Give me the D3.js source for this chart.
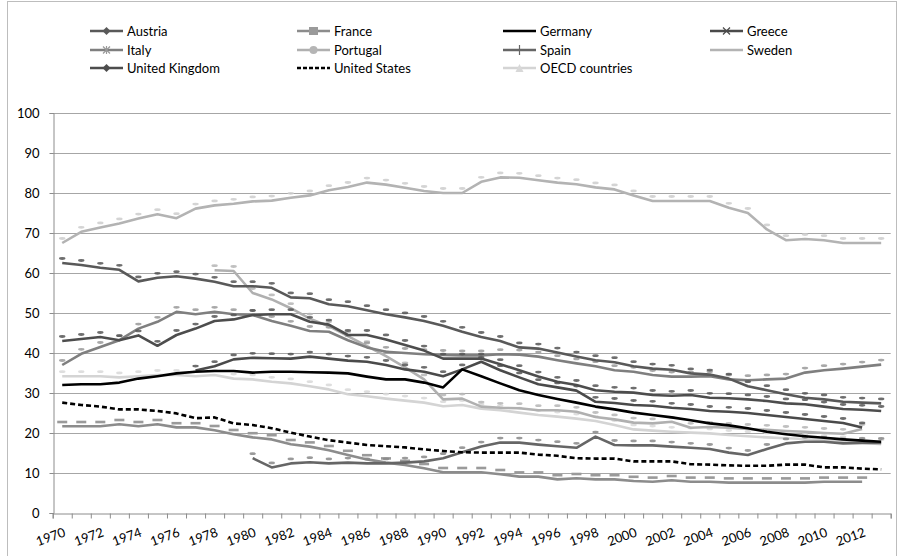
<!DOCTYPE html>
<html>
<head>
<meta charset="utf-8">
<script src="https://cdn.jsdelivr.net/npm/d3@7"></script>
<style>
  body { margin: 0; background: #fff; }
  text { font-family: Lato, "Open Sans", sans-serif; }
</style>
</head>
<body>
<div id="chart"></div>
<script>
// years on the category axis
var years = d3.range(1970, 2014);
var yearLabels = years.filter(function(y) { return y % 2 === 0; });
var yTicks = d3.range(0, 101, 10);

// values, 1970..2013 (null = no data)
var austria = [62.5,62.0,61.3,60.8,57.9,58.8,59.2,58.6,57.8,56.7,
  56.7,56.3,53.9,53.7,52.2,51.7,50.7,49.7,48.9,48.0,
  46.8,45.3,44.0,43.0,41.4,41.1,40.1,39.1,38.2,37.7,
  36.7,36.1,35.8,34.9,34.6,33.6,31.7,30.7,29.7,28.8,
  28.4,27.8,27.6,27.4];
var france = [21.7,21.7,21.7,22.2,21.7,22.2,21.4,21.4,20.7,19.7,
  18.9,18.4,17.2,16.6,15.7,14.5,13.4,12.6,12.0,11.2,
  10.2,10.2,10.2,9.7,9.1,9.1,8.4,8.7,8.4,8.4,
  8.0,7.8,8.2,7.8,7.8,7.6,7.6,7.6,7.6,7.6,
  7.8,7.8,7.8,null];
var germany = [32.0,32.2,32.2,32.6,33.6,34.2,34.9,35.3,35.5,35.5,
  35.1,35.3,35.3,35.2,35.1,34.9,34.1,33.4,33.4,32.6,
  31.4,35.9,34.2,32.4,30.7,29.5,28.5,27.6,26.6,25.9,
  25.1,24.5,23.9,23.2,22.4,21.9,21.2,20.3,19.7,19.2,
  18.8,18.4,18.1,17.8];
var greece = [null,null,null,null,null,null,null,35.6,36.7,38.4,
  38.8,38.7,38.6,39.1,38.6,38.1,37.8,37.0,35.9,35.3,
  34.2,35.9,37.8,35.7,33.9,32.2,31.4,30.6,27.8,27.5,
  27.0,26.8,26.3,26.0,25.5,25.3,25.0,24.5,24.0,23.5,
  23.0,22.5,21.4,null];
var italy = [37.0,39.8,41.5,43.2,46.1,47.8,50.3,49.7,50.3,49.7,
  49.5,48.0,46.8,45.5,45.3,43.2,41.4,40.3,40.0,39.7,
  39.5,39.4,39.4,39.7,39.6,39.1,38.2,37.4,36.7,35.7,
  35.3,34.5,34.1,34.1,34.2,33.4,33.2,33.4,33.6,35.1,
  35.7,36.1,36.6,37.1];
var portugal = [null,null,null,null,null,null,null,null,60.7,60.5,
  55.0,53.4,51.2,48.6,46.7,44.2,41.7,39.2,36.4,33.4,
  28.4,28.6,26.6,26.3,26.2,25.7,25.7,25.3,24.0,23.4,
  22.6,22.4,22.8,21.3,21.5,21.3,21.0,20.8,20.5,20.3,
  20.0,19.8,21.0,null];
var spain = [null,null,null,null,null,null,null,null,null,null,
  13.7,11.4,12.4,12.7,12.4,12.6,12.4,12.4,12.6,12.9,
  13.7,15.2,16.6,17.6,17.6,17.1,16.7,16.3,19.1,17.0,
  16.9,16.9,16.6,16.3,16.0,15.1,14.5,16.0,17.4,17.8,
  17.8,17.4,17.5,17.5];
var sweden = [67.5,70.3,71.4,72.4,73.6,74.7,73.7,76.1,76.9,77.3,
  77.9,78.1,78.8,79.4,80.7,81.5,82.6,82.1,81.3,80.5,
  80.0,80.0,82.8,83.9,83.8,83.2,82.6,82.2,81.4,80.9,
  79.4,78.0,78.0,78.0,78.0,76.3,75.0,70.9,68.2,68.5,
  68.2,67.5,67.5,67.5];
var uk = [43.0,43.5,44.0,43.2,44.4,41.8,44.5,46.1,48.0,48.4,
  49.5,49.7,49.7,47.8,47.1,44.5,44.5,43.4,42.0,40.6,
  38.6,38.6,38.6,37.2,35.7,34.1,32.8,32.0,30.7,30.3,
  30.1,29.5,29.3,29.5,28.8,28.7,28.4,28.0,27.4,27.2,
  26.6,26.0,25.8,25.5];
var us = [27.6,27.0,26.6,25.9,25.9,25.5,24.9,23.7,23.9,22.4,
  22.0,21.2,20.1,19.1,18.2,17.6,17.0,16.7,16.4,15.9,
  15.5,15.2,15.1,15.1,15.1,14.6,14.3,13.7,13.6,13.6,
  12.9,12.9,12.9,12.2,12.1,11.9,11.8,11.8,12.1,12.1,
  11.4,11.4,11.1,10.9];
var oecd = [34.2,34.2,34.2,33.9,34.2,34.5,34.5,34.2,34.5,33.6,
  33.4,32.8,32.4,31.7,30.9,29.7,29.2,28.6,28.1,27.6,
  26.7,27.0,26.1,25.7,25.1,24.5,24.1,23.6,23.0,22.0,
  20.9,20.6,20.3,20.1,19.9,19.5,19.2,18.9,18.7,18.5,
  18.2,17.9,17.6,17.2];

var seriesNames = ["Austria","France","Germany","Greece","Italy","Portugal",
  "Spain","Sweden","United Kingdom","United States","OECD countries"];

var series = [
  {name: "Austria", values: austria, color: "#595959", mark: "dot", mcolor: "#555"},
  {name: "France", values: france, color: "#8c8c8c", mark: "wide", mcolor: "#9a9a9a"},
  {name: "Germany", values: germany, color: "#000", mark: null},
  {name: "Greece", values: greece, color: "#4a4a4a", mark: "dot", mcolor: "#555"},
  {name: "Italy", values: italy, color: "#7f7f7f", mark: "dot", mcolor: "#999"},
  {name: "Portugal", values: portugal, color: "#b0b0b0", mark: "dot", mcolor: "#b5b5b5"},
  {name: "Spain", values: spain, color: "#666", mark: "dot", mcolor: "#888"},
  {name: "Sweden", values: sweden, color: "#b3b3b3", mark: "dot", mcolor: "#ccc"},
  {name: "United Kingdom", values: uk, color: "#4d4d4d", mark: "dot", mcolor: "#555"},
  {name: "United States", values: us, color: "#000", mark: null, dash: "5,3"},
  {name: "OECD countries", values: oecd, color: "#d4d4d4", mark: "dot", mcolor: "#d8d8d8"}
];

function drawChart() {
  var W = 903, H = 556;
  var svg = d3.select("#chart").append("svg")
    .attr("width", W)
    .attr("height", H);

  // chart area border (bottom edge sits just off the picture)
  svg.append("rect")
    .attr("x", 7.5).attr("y", 1.5)
    .attr("width", 889).attr("height", 560)
    .attr("fill", "#fff")
    .attr("stroke", "#bdbdbd");

  var plotLeft = 52.7, plotRight = 890.7, plotTop = 113, plotBottom = 513;

  var x = d3.scaleBand().domain(years).range([plotLeft, plotRight]).padding(0);
  var xTick = d3.scaleLinear().domain([0, years.length]).range([plotLeft, plotRight]);
  var y = d3.scaleLinear().domain([0, 100]).range([plotBottom, plotTop]);

  // gridlines
  svg.append("g")
    .selectAll("line")
    .data(yTicks.filter(function(d) { return d > 0; }))
    .enter().append("line")
    .attr("x1", plotLeft).attr("x2", plotRight)
    .attr("y1", function(d) { return Math.round(y(d)) + 0.5; })
    .attr("y2", function(d) { return Math.round(y(d)) + 0.5; })
    .attr("stroke", "#a6a6a6");

  // y axis
  var yAxis = svg.append("g")
    .attr("transform", "translate(" + (Math.round(plotLeft) + 0.5) + ",0)")
    .call(d3.axisLeft(y).tickValues(yTicks).tickSize(4).tickPadding(10));
  yAxis.select(".domain").attr("stroke", "#8c8c8c");
  yAxis.selectAll(".tick line").attr("stroke", "#8c8c8c");
  yAxis.selectAll("text").attr("font-size", 13).attr("fill", "#000").attr("font-family", "Lato");

  // x axis, ticks between categories
  var xAxis = svg.append("g")
    .attr("transform", "translate(0," + (Math.round(plotBottom) + 0.5) + ")")
    .call(d3.axisBottom(xTick).tickValues(d3.range(0, years.length + 1)).tickSize(5).tickFormat(""));
  xAxis.select(".domain").attr("stroke", "#8c8c8c");
  xAxis.selectAll(".tick line").attr("stroke", "#8c8c8c");

  svg.append("g")
    .selectAll("text")
    .data(yearLabels)
    .enter().append("text")
    .attr("transform", function(d) {
      return "translate(" + (x(d) + x.bandwidth() / 2 + 1) + "," + (plotBottom + 14) + ") rotate(-20)";
    })
    .attr("text-anchor", "end")
    .attr("dy", "0.72em")
    .attr("font-size", 13)
    .attr("fill", "#000")
    .text(function(d) { return d; });

  var px = function(i) { return x(years[i]) + x.bandwidth() / 2; };

  var line = d3.line()
    .defined(function(d) { return d != null; })
    .x(function(d, i) { return px(i); })
    .y(function(d) { return y(d); });

  // lighter series first so the dark ones sit on top
  var drawOrder = ["Sweden","OECD countries","Portugal","France","Italy","Spain",
    "Greece","United Kingdom","Austria","United States","Germany"];

  drawOrder.forEach(function(name) {
    var s = series.find(function(d) { return d.name === name; });
    var g = svg.append("g");
    g.append("path")
      .datum(s.values)
      .attr("fill", "none")
      .attr("stroke", s.color)
      .attr("stroke-width", 2.6)
      .attr("stroke-linejoin", "round")
      .attr("stroke-dasharray", s.dash || null)
      .attr("d", line);

    if (s.mark) {
      var pts = s.values.map(function(v, i) { return {v: v, i: i}; })
        .filter(function(d) { return d.v != null; });
      if (s.mark === "wide") {
        g.selectAll("rect")
          .data(pts)
          .enter().append("rect")
          .attr("x", function(d) { return px(d.i) - 5; })
          .attr("y", function(d) { return y(d.v) - 5.5; })
          .attr("width", 10).attr("height", 2.6)
          .attr("fill", s.mcolor);
      } else {
        g.selectAll("ellipse")
          .data(pts)
          .enter().append("ellipse")
          .attr("cx", function(d) { return px(d.i); })
          .attr("cy", function(d) { return y(d.v) - 4.5; })
          .attr("rx", 3.2).attr("ry", 1.4)
          .attr("fill", s.mcolor)
          .attr("opacity", 0.85);
      }
    }
  });

  // legend
  var legendRows = [31, 50, 68];
  var legendCols = [90, 297, 503, 710];
  var legend = svg.append("g")
    .selectAll("g")
    .data(seriesNames)
    .enter().append("g")
    .attr("transform", function(d, i) {
      return "translate(" + legendCols[i % 4] + "," + legendRows[Math.floor(i / 4)] + ")";
    });

  legend.append("line")
    .attr("x1", 0).attr("x2", 33)
    .attr("stroke", function(d) { return series.find(function(s) { return s.name === d; }).color; })
    .attr("stroke-width", 2.6)
    .attr("stroke-dasharray", function(d) { return series.find(function(s) { return s.name === d; }).dash ? "4,2" : null; });

  legend.each(function(d) {
    var s = series.find(function(k) { return k.name === d; });
    var g = d3.select(this);
    if (s.name === "France") {
      g.append("rect").attr("x", 12).attr("y", -4).attr("width", 9).attr("height", 8).attr("fill", "#9a9a9a");
    } else if (s.name === "Portugal") {
      g.append("circle").attr("cx", 16.5).attr("r", 4).attr("fill", "#b5b5b5");
    } else if (s.name === "OECD countries") {
      g.append("path").attr("d", "M12.5,4 L16.5,-4 L20.5,4 Z").attr("fill", "#d8d8d8");
    } else if (s.name === "Austria" || s.name === "United Kingdom") {
      g.append("path").attr("d", "M16.5,-4 L20.5,0 L16.5,4 L12.5,0 Z").attr("fill", s.color);
    } else if (s.name === "Greece" || s.name === "Italy") {
      g.append("path").attr("d", "M13,-3.5 L20,3.5 M13,3.5 L20,-3.5" + (s.name === "Italy" ? " M16.5,-4 L16.5,4" : ""))
        .attr("stroke", s.name === "Italy" ? "#999" : s.color).attr("stroke-width", 1.2);
    } else if (s.name === "Spain") {
      g.append("path").attr("d", "M16.5,-5 L16.5,5").attr("stroke", s.color).attr("stroke-width", 1.2);
    }
  });

  legend.append("text")
    .attr("x", 37)
    .attr("dy", "0.35em")
    .attr("font-size", 13)
    .attr("fill", "#000")
    .text(function(d) { return d; });
}

drawChart();
</script>
</body>
</html>
